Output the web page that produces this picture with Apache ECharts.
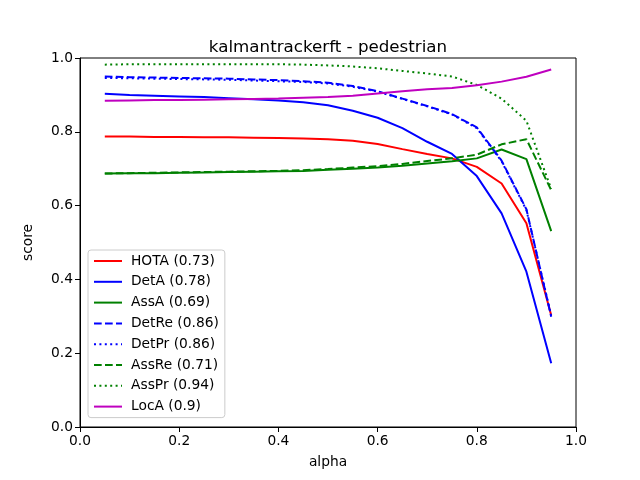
<!DOCTYPE html>
<html>
<head>
<meta charset="utf-8">
<script src="https://cdn.jsdelivr.net/npm/echarts@6/dist/echarts.min.js"></script>
<style>
  html, body { margin: 0; padding: 0; background: #fff; }
  #chart { width: 640px; height: 480px; }
</style>
</head>
<body>
<div id="chart"></div>
<script>
// alpha thresholds
const alpha = [0.05, 0.1, 0.15, 0.2, 0.25, 0.3, 0.35, 0.4, 0.45, 0.5,
               0.55, 0.6, 0.65, 0.7, 0.75, 0.8, 0.85, 0.9, 0.95];

const hota  = [0.787, 0.787, 0.786, 0.786, 0.785, 0.785, 0.784, 0.783, 0.782, 0.780,
               0.776, 0.767, 0.753, 0.740, 0.728, 0.705, 0.660, 0.552, 0.303];
const detA  = [0.903, 0.900, 0.898, 0.896, 0.894, 0.891, 0.888, 0.885, 0.880, 0.872,
               0.857, 0.838, 0.810, 0.773, 0.740, 0.680, 0.579, 0.421, 0.173];
const assA  = [0.687, 0.688, 0.688, 0.689, 0.690, 0.691, 0.692, 0.693, 0.694, 0.697,
               0.700, 0.703, 0.708, 0.714, 0.720, 0.728, 0.752, 0.726, 0.531];
const detRe = [0.950, 0.948, 0.947, 0.946, 0.945, 0.944, 0.942, 0.940, 0.937, 0.933,
               0.924, 0.910, 0.890, 0.870, 0.848, 0.812, 0.722, 0.590, 0.299];
const detPr = [0.946, 0.945, 0.944, 0.943, 0.942, 0.941, 0.939, 0.937, 0.935, 0.931,
               0.922, 0.909, 0.889, 0.869, 0.847, 0.810, 0.720, 0.588, 0.302];
const assRe = [0.687, 0.688, 0.689, 0.690, 0.691, 0.692, 0.693, 0.694, 0.696, 0.699,
               0.703, 0.707, 0.713, 0.721, 0.728, 0.738, 0.766, 0.780, 0.642];
const assPr = [0.982, 0.983, 0.983, 0.983, 0.983, 0.983, 0.983, 0.983, 0.982, 0.980,
               0.977, 0.972, 0.965, 0.958, 0.950, 0.927, 0.890, 0.830, 0.645];
const locA  = [0.884, 0.885, 0.886, 0.886, 0.887, 0.888, 0.889, 0.890, 0.892, 0.894,
               0.898, 0.904, 0.910, 0.915, 0.919, 0.926, 0.936, 0.949, 0.969];

const xTicks = [0.0, 0.2, 0.4, 0.6, 0.8, 1.0];
const yTicks = [0.0, 0.2, 0.4, 0.6, 0.8, 1.0];

// matplotlib-like dash patterns for a 2px line
const dashed = [7.7, 3.3];
const dotted = [2, 3.4];

const seriesDefs = [
  { name: 'HOTA (0.73)',  data: hota,  color: '#ff0000', type: 'solid' },
  { name: 'DetA (0.78)',  data: detA,  color: '#0000ff', type: 'solid' },
  { name: 'AssA (0.69)',  data: assA,  color: '#008000', type: 'solid' },
  { name: 'DetRe (0.86)', data: detRe, color: '#0000ff', type: dashed },
  { name: 'DetPr (0.86)', data: detPr, color: '#0000ff', type: dotted },
  { name: 'AssRe (0.71)', data: assRe, color: '#008000', type: dashed },
  { name: 'AssPr (0.94)', data: assPr, color: '#008000', type: dotted },
  { name: 'LocA (0.9)',   data: locA,  color: '#bf00bf', type: 'solid' }
];

const chart = echarts.init(document.getElementById('chart'));

const font = 'DejaVu Sans';

const option = {
  animation: false,
  textStyle: { fontFamily: font },
  title: {
    text: 'kalmantrackerft - pedestrian',
    left: 323,
    textAlign: 'center',
    top: 34,
    textStyle: { fontFamily: font, fontSize: 16.7, fontWeight: 'normal', color: '#000' }
  },
  grid: { left: 80, right: 64, top: 58, bottom: 53, show: true, borderColor: '#000', borderWidth: 1 },
  legend: {
    orient: 'vertical',
    left: 88,
    top: 250,
    padding: [4, 6, 4, 5],
    itemWidth: 28,
    itemHeight: 14,
    itemGap: 6.8,
    backgroundColor: 'rgba(255,255,255,0.8)',
    borderColor: '#cccccc',
    borderWidth: 1,
    borderRadius: 3,
    itemStyle: { opacity: 0 },
    textStyle: { fontFamily: font, fontSize: 13.8, color: '#000', padding: [0, 0, 0, 4] },
    data: seriesDefs.map(s => s.name)
  },
  xAxis: {
    type: 'value',
    min: 0,
    max: 1,
    interval: 0.2,
    name: 'alpha',
    nameLocation: 'middle',
    nameGap: 28,
    nameTextStyle: { fontFamily: font, fontSize: 13.8, color: '#000' },
    axisLine: { show: true, lineStyle: { color: '#000' } },
    axisTick: { show: true, length: 5, lineStyle: { color: '#000' } },
    axisLabel: {
      fontFamily: font, fontSize: 13.8, color: '#000', margin: 7,
      formatter: v => xTicks.includes(Math.round(v * 10) / 10) ? v.toFixed(1) : ''
    },
    splitLine: { show: false }
  },
  yAxis: {
    type: 'value',
    min: 0,
    max: 1,
    interval: 0.2,
    name: 'score',
    nameLocation: 'middle',
    nameGap: 45,
    nameTextStyle: { fontFamily: font, fontSize: 13.8, color: '#000' },
    axisLine: { show: true, lineStyle: { color: '#000' } },
    axisTick: { show: true, length: 5, lineStyle: { color: '#000' } },
    axisLabel: {
      fontFamily: font, fontSize: 13.8, color: '#000', margin: 7,
      formatter: v => yTicks.includes(Math.round(v * 10) / 10) ? v.toFixed(1) : ''
    },
    splitLine: { show: false }
  },
  series: seriesDefs.map(s => ({
    name: s.name,
    type: 'line',
    data: alpha.map((a, i) => [a, s.data[i]]),
    symbol: 'none',
    color: s.color,
    lineStyle: { color: s.color, width: 2, type: s.type },
    itemStyle: { color: s.color }
  }))
};

chart.setOption(option);
</script>
</body>
</html>
